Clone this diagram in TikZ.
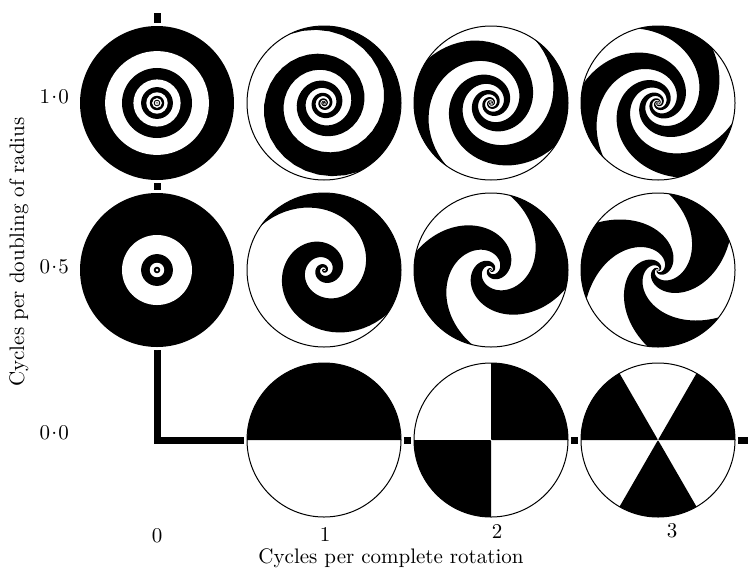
\documentclass[tikz,border=0pt]{standalone}
% one disc of spiral arms: centre, arms per turn, cycles per doubling, start angle
\newcommand\spiraldisc[4]{%
  \begin{scope}[shift={(#1)}]
    \fill[white] (0,0) circle (80);
    \pgfmathsetmacro\armwd{180/#2}
    \foreach \n in {1,...,#2}
      \fill plot[domain=5.8:0,samples=200] ({#4+360*\n/#2-360*#3*\x/#2}:{77*exp(-0.7885*\x)})
        -- plot[domain=0:\armwd,samples=30] ({#4+360*\n/#2+\x}:77)
        -- plot[domain=0:5.8,samples=200] ({#4+360*\n/#2+\armwd-360*#3*\x/#2}:{77*exp(-0.7885*\x)})
        -- cycle;
    \draw[line width=0.5pt] (0,0) circle (77);
  \end{scope}}
% concentric rings: centre, cycles per doubling, last ring
\newcommand\ringdisc[3]{%
  \begin{scope}[shift={(#1)}]
    \fill[white] (0,0) circle (80);
    \foreach \h in {0,...,#3}{
      \pgfmathsetmacro\rr{77*exp(-0.7885*\h/(2*#2))}
      \pgfmathtruncatemacro\shade{100*(1-mod(\h,2))}
      \fill[black!\shade] (0,0) circle (\rr);}
  \end{scope}}
\newcommand\cdt{\kern0.06em\raisebox{0.55ex}{.}\kern0.06em}
\begin{document}
\begin{tikzpicture}[x=0.5pt,y=0.5pt,
    axisline/.style={line width=3.5pt},
    rowlabel/.style={anchor=east,font=\fontsize{10.5}{12}\selectfont},
    collabel/.style={font=\fontsize{10.5}{12}\selectfont}]
  \useasboundingbox (0,0) rectangle (748,570);
  \foreach \c/\x in {0/157,1/324,2/491,3/658}
    \foreach \r/\y in {1/467,2/300,3/130}
      \coordinate (d\r\c) at (\x,\y);
  \draw[axisline] ([shift={(0,90)}]d10) |- ([shift={(96,0)}]d33);

  \ringdisc{d10}{1}{11}
  \ringdisc{d20}{0.5}{5}
  \spiraldisc{d11}{1}{1}{-63}
  \spiraldisc{d12}{2}{1}{-35}
  \spiraldisc{d13}{3}{1}{45}
  \spiraldisc{d21}{1}{0.5}{-35}
  \spiraldisc{d22}{2}{0.5}{-14}
  \spiraldisc{d23}{3}{0.5}{22}
  \spiraldisc{d31}{1}{0}{0}
  \spiraldisc{d32}{2}{0}{0}
  \spiraldisc{d33}{3}{0}{0}

  \node[rowlabel] (lab1) at (76,473) {1\cdt0};
  \node[rowlabel] (lab2) at (76,303) {0\cdt5};
  \node[rowlabel] (lab3) at (76,137) {0\cdt0};
  \node[collabel] (col0) at (157,34) {0};
  \node[collabel] (col1) at (325,36) {1};
  \node[collabel] (col2) at (497,39) {2};
  \node[collabel] (col3) at (672,39) {3};
  \node[collabel] (xtitle) at (391,12) {Cycles per complete rotation};
  \node[collabel,rotate=90] (ytitle) at (19,318) {Cycles per doubling of radius};
\end{tikzpicture}
\end{document}
